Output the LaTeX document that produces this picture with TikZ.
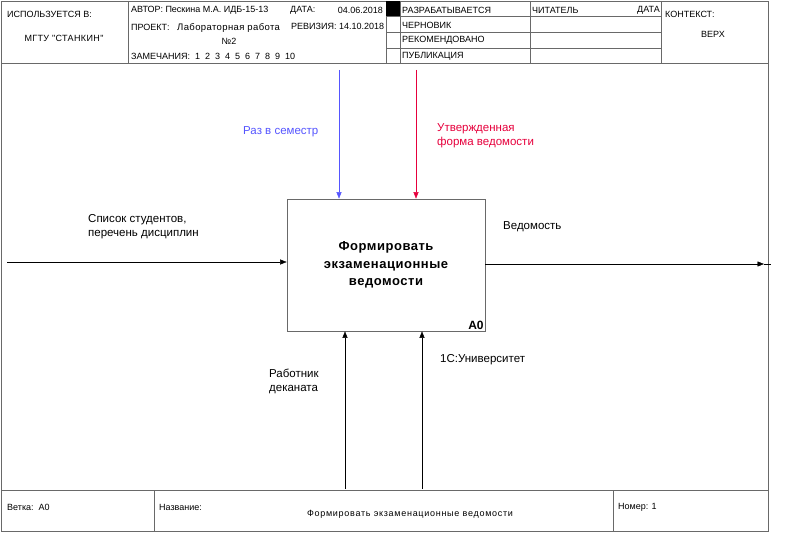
\documentclass[tikz,border=0pt]{standalone}
\usepackage{fontspec}
\setmainfont{Liberation Sans}
\newfontfamily\titlefont[LetterSpace=8]{Liberation Sans}
\newfontfamily\boxfont[LetterSpace=4]{Liberation Sans}
\usetikzlibrary{arrows.meta,positioning}
\definecolor{idefgray}{RGB}{105,105,105}
\definecolor{idefblue}{RGB}{85,85,255}
\definecolor{idefred}{RGB}{230,0,60}

\begin{document}
\begin{tikzpicture}[x=1pt, y=-1pt, font=\fontsize{9}{10}\selectfont, >={Triangle[length=6.5pt,width=5pt]}]
  \tikzset{frame/.style={draw=idefgray, line width=0.6pt},field/.style={anchor=west, inner sep=0pt},label/.style={anchor=base west, inner sep=0pt, align=left, font=\fontsize{11.5}{14.5}\selectfont},process/.style={draw=idefgray, line width=0.7pt, minimum width=198pt, minimum height=132pt, align=center, font=\boxfont\bfseries\fontsize{13}{17.5}\selectfont}}
  \useasboundingbox (0,0) rectangle (799,532);
  % frame and header grid
  \draw[frame] (1,1) rectangle (768,531);
  \draw[frame] (1,63) -- (768,63);
  \foreach \x in {128,386,400,530,661}
    \draw[frame] (\x,1) -- (\x,63);
  \foreach \y in {16,32,48}
    \draw[frame] (386,\y) -- (661,\y);
  \fill (386,1) rectangle (400,16);
  \draw[frame] (1,490) -- (768,490);
  \draw[frame] (154,490) -- (154,531);
  \draw[frame] (613,490) -- (613,531);
  % header texts
  \node[field] (usedAt) at (7,14) {ИСПОЛЬЗУЕТСЯ В:};
  \node (org) at (64,38) {\boxfont МГТУ "СТАНКИН"};
  \node[field] (author) at (131,10) {АВТОР: Пескина М.А. ИДБ-15-13};
  \node[field] (dateKey) at (290,10) {ДАТА:};
  \node[field, anchor=east] (dateVal) at (383,10) {04.06.2018};
  \node[field] (project) at (131,27) {ПРОЕКТ:};
  \node[field, font=\boxfont\fontsize{9.5}{11}\selectfont] (projName) at (177,28) {Лабораторная работа};
  \node (projNo) at (229,41) {№2};
  \node[field] (revision) at (291,26) {РЕВИЗИЯ: 14.10.2018};
  \node[field] (notes) at (131,56) {ЗАМЕЧАНИЯ:\ \ 1\ \ 2\ \ 3\ \ 4\ \ 5\ \ 6\ \ 7\ \ 8\ \ 9\ \ 10};
  \node[field] (working) at (402,10) {РАЗРАБАТЫВАЕТСЯ};
  \node[field] (draft) at (402,25) {ЧЕРНОВИК};
  \node[field] (recommended) at (402,40) {РЕКОМЕНДОВАНО};
  \node[field] (publication) at (402,56) {ПУБЛИКАЦИЯ};
  \node[field] (reader) at (532,10) {ЧИТАТЕЛЬ};
  \node[field, anchor=east] (readerDate) at (660,10) {ДАТА};
  \node[field] (context) at (665,14) {КОНТЕКСТ:};
  \node (top) at (713,34) {ВЕРХ};
  % footer texts
  \node[field] (branch) at (7,507) {Ветка:\ \ А0};
  \node[field] (nameKey) at (159,507) {Название:};
  \node (nameVal) at (410,514) {\titlefont Формировать экзаменационные ведомости};
  \node[field] (number) at (618,507) {Номер: 1};
  % activity box
  \node[process] (a0) at (386,265) {Формировать\\экзаменационные\\ведомости};
  \node[anchor=south east, inner sep=1.5pt, font=\bfseries\fontsize{12}{13}\selectfont] (a0num) at (a0.south east) {А0};
  % free ends of the arrows
  \coordinate (inStart) at (7,262);
  \coordinate (outEnd) at (764,264);
  \coordinate (ctlTerm) at (339,70);
  \coordinate (ctlForm) at (416,70);
  \coordinate (mechStaff) at (345,489);
  \coordinate (mechSoft) at (422,489);
  % arrows
  \draw[->] (inStart) -- (inStart -| a0.west);
  \draw[->] (a0.east |- outEnd) -- (outEnd);
  \draw (outEnd) -- ++(7,0);
  \draw[->, idefblue] (ctlTerm) -- (ctlTerm |- a0.north);
  \draw[->, idefred] (ctlForm) -- (ctlForm |- a0.north);
  \draw[->] (mechStaff) -- (mechStaff |- a0.south);
  \draw[->] (mechSoft) -- (mechSoft |- a0.south);
  % arrow labels (base = last line)
  \node[label, text=idefblue] (termLbl) at (243,134) {Раз в семестр};
  \node[label, text=idefred] (formLbl) at (437,145.5) {Утвержденная\\форма ведомости};
  \node[label] (inLbl) at (88,236.5) {Список студентов,\\перечень дисциплин};
  \node[label] (outLbl) at (503,229) {Ведомость};
  \node[label] (staffLbl) at (269,391.5) {Работник\\деканата};
  \node[label] (softLbl) at (440,362) {1С:Университет};
\end{tikzpicture}
\end{document}
